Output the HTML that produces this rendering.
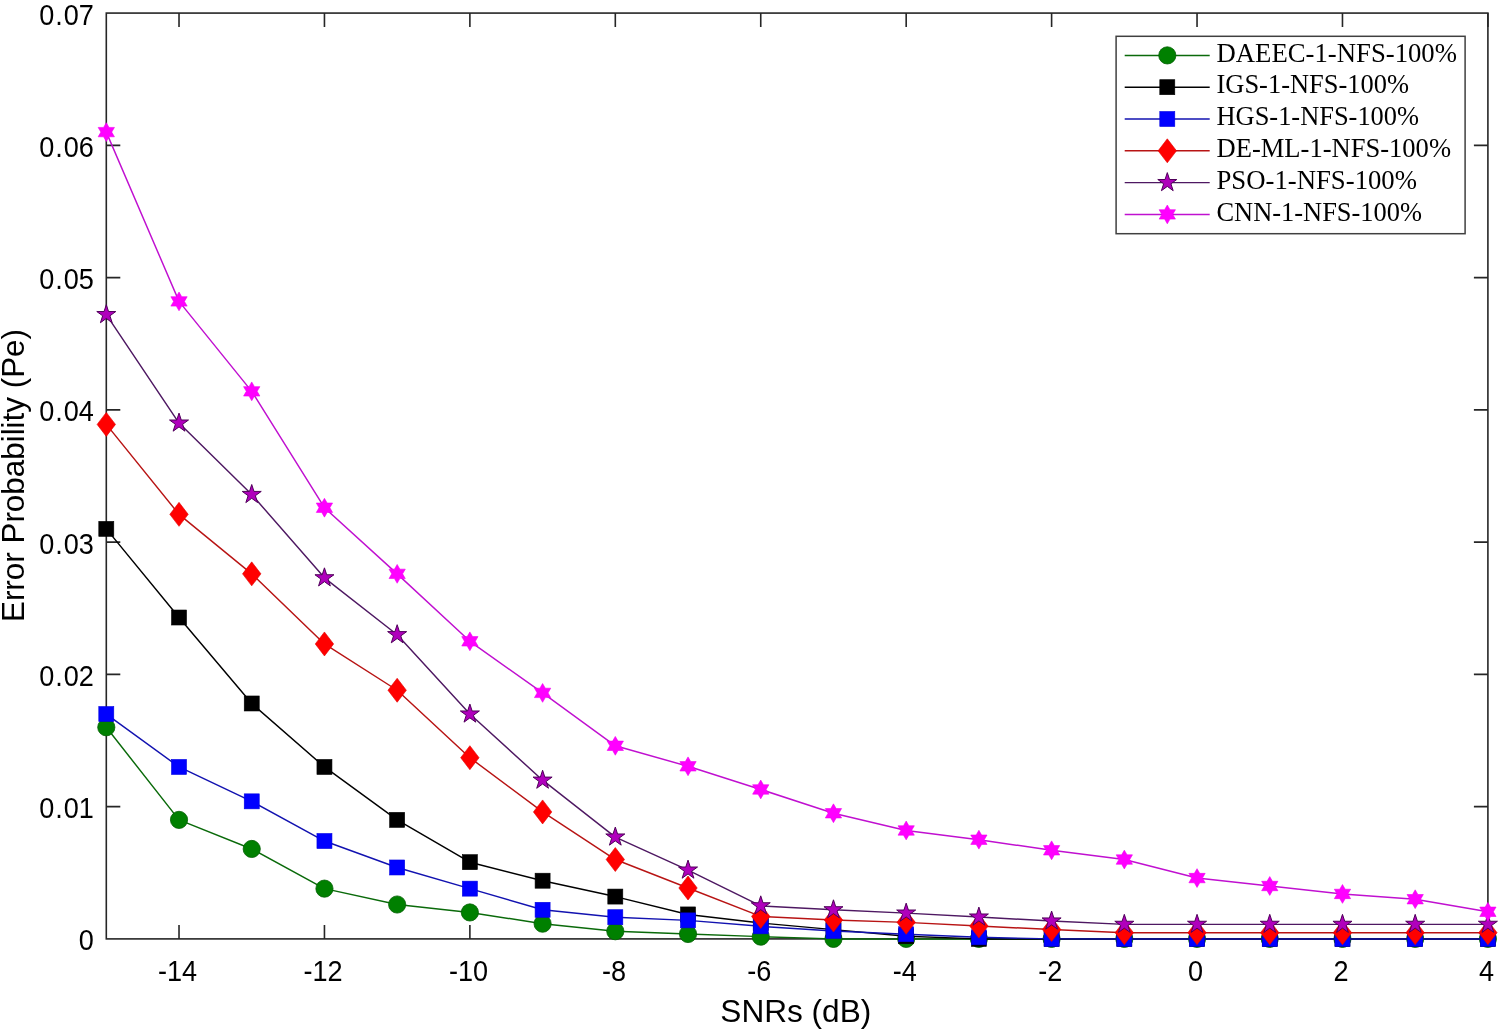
<!DOCTYPE html>
<html><head><meta charset="utf-8"><style>
html,body{margin:0;padding:0;background:#fff;}
svg{display:block;font-family:"Liberation Sans",sans-serif;}
text{-webkit-font-smoothing:antialiased;}
</style></head><body>
<svg style="will-change:transform" width="1500" height="1032" viewBox="0 0 1500 1032">
<rect width="1500" height="1032" fill="#fff"/>
<rect x="106.30" y="13.08" width="1381.60" height="925.82" fill="#fff" stroke="#262626" stroke-width="1.6"/>
<path d="M179.02 938.90V924.90M179.02 13.08V27.08" stroke="#262626" stroke-width="1.6"/>
<path d="M324.45 938.90V924.90M324.45 13.08V27.08" stroke="#262626" stroke-width="1.6"/>
<path d="M469.88 938.90V924.90M469.88 13.08V27.08" stroke="#262626" stroke-width="1.6"/>
<path d="M615.31 938.90V924.90M615.31 13.08V27.08" stroke="#262626" stroke-width="1.6"/>
<path d="M760.74 938.90V924.90M760.74 13.08V27.08" stroke="#262626" stroke-width="1.6"/>
<path d="M906.18 938.90V924.90M906.18 13.08V27.08" stroke="#262626" stroke-width="1.6"/>
<path d="M1051.61 938.90V924.90M1051.61 13.08V27.08" stroke="#262626" stroke-width="1.6"/>
<path d="M1197.04 938.90V924.90M1197.04 13.08V27.08" stroke="#262626" stroke-width="1.6"/>
<path d="M1342.47 938.90V924.90M1342.47 13.08V27.08" stroke="#262626" stroke-width="1.6"/>
<path d="M1487.90 938.90V924.90M1487.90 13.08V27.08" stroke="#262626" stroke-width="1.6"/>
<path d="M106.30 806.64H120.30M1487.90 806.64H1473.90" stroke="#262626" stroke-width="1.6"/>
<path d="M106.30 674.38H120.30M1487.90 674.38H1473.90" stroke="#262626" stroke-width="1.6"/>
<path d="M106.30 542.12H120.30M1487.90 542.12H1473.90" stroke="#262626" stroke-width="1.6"/>
<path d="M106.30 409.86H120.30M1487.90 409.86H1473.90" stroke="#262626" stroke-width="1.6"/>
<path d="M106.30 277.60H120.30M1487.90 277.60H1473.90" stroke="#262626" stroke-width="1.6"/>
<path d="M106.30 145.34H120.30M1487.90 145.34H1473.90" stroke="#262626" stroke-width="1.6"/>
<polyline points="106.30,727.28 179.02,819.87 251.73,848.96 324.45,888.64 397.16,904.51 469.88,912.45 542.60,923.69 615.31,931.23 688.03,934.01 760.74,936.65 833.46,938.90 906.18,938.90 978.89,938.90 1051.61,938.90 1124.32,938.90 1197.04,938.90 1269.76,938.90 1342.47,938.90 1415.19,938.90 1487.90,938.90" fill="none" stroke="#0a6a0a" stroke-width="1.45" stroke-linejoin="round"/>
<circle cx="106.30" cy="727.28" r="8.6" fill="#008000" stroke="#036003" stroke-width="0.8"/>
<circle cx="179.02" cy="819.87" r="8.6" fill="#008000" stroke="#036003" stroke-width="0.8"/>
<circle cx="251.73" cy="848.96" r="8.6" fill="#008000" stroke="#036003" stroke-width="0.8"/>
<circle cx="324.45" cy="888.64" r="8.6" fill="#008000" stroke="#036003" stroke-width="0.8"/>
<circle cx="397.16" cy="904.51" r="8.6" fill="#008000" stroke="#036003" stroke-width="0.8"/>
<circle cx="469.88" cy="912.45" r="8.6" fill="#008000" stroke="#036003" stroke-width="0.8"/>
<circle cx="542.60" cy="923.69" r="8.6" fill="#008000" stroke="#036003" stroke-width="0.8"/>
<circle cx="615.31" cy="931.23" r="8.6" fill="#008000" stroke="#036003" stroke-width="0.8"/>
<circle cx="688.03" cy="934.01" r="8.6" fill="#008000" stroke="#036003" stroke-width="0.8"/>
<circle cx="760.74" cy="936.65" r="8.6" fill="#008000" stroke="#036003" stroke-width="0.8"/>
<circle cx="833.46" cy="938.90" r="8.6" fill="#008000" stroke="#036003" stroke-width="0.8"/>
<circle cx="906.18" cy="938.90" r="8.6" fill="#008000" stroke="#036003" stroke-width="0.8"/>
<circle cx="978.89" cy="938.90" r="8.6" fill="#008000" stroke="#036003" stroke-width="0.8"/>
<circle cx="1051.61" cy="938.90" r="8.6" fill="#008000" stroke="#036003" stroke-width="0.8"/>
<circle cx="1124.32" cy="938.90" r="8.6" fill="#008000" stroke="#036003" stroke-width="0.8"/>
<circle cx="1197.04" cy="938.90" r="8.6" fill="#008000" stroke="#036003" stroke-width="0.8"/>
<circle cx="1269.76" cy="938.90" r="8.6" fill="#008000" stroke="#036003" stroke-width="0.8"/>
<circle cx="1342.47" cy="938.90" r="8.6" fill="#008000" stroke="#036003" stroke-width="0.8"/>
<circle cx="1415.19" cy="938.90" r="8.6" fill="#008000" stroke="#036003" stroke-width="0.8"/>
<circle cx="1487.90" cy="938.90" r="8.6" fill="#008000" stroke="#036003" stroke-width="0.8"/>
<polyline points="106.30,528.89 179.02,617.51 251.73,703.48 324.45,766.96 397.16,819.87 469.88,862.19 542.60,880.71 615.31,896.58 688.03,914.43 760.74,923.03 833.46,929.64 906.18,936.25 978.89,938.90 1051.61,938.90 1124.32,938.90 1197.04,938.90 1269.76,938.90 1342.47,938.90 1415.19,938.90 1487.90,938.90" fill="none" stroke="#000000" stroke-width="1.45" stroke-linejoin="round"/>
<rect x="98.80" y="521.39" width="15.0" height="15.0" fill="#000000" stroke="#000000" stroke-width="0.6"/>
<rect x="171.52" y="610.01" width="15.0" height="15.0" fill="#000000" stroke="#000000" stroke-width="0.6"/>
<rect x="244.23" y="695.98" width="15.0" height="15.0" fill="#000000" stroke="#000000" stroke-width="0.6"/>
<rect x="316.95" y="759.46" width="15.0" height="15.0" fill="#000000" stroke="#000000" stroke-width="0.6"/>
<rect x="389.66" y="812.37" width="15.0" height="15.0" fill="#000000" stroke="#000000" stroke-width="0.6"/>
<rect x="462.38" y="854.69" width="15.0" height="15.0" fill="#000000" stroke="#000000" stroke-width="0.6"/>
<rect x="535.10" y="873.21" width="15.0" height="15.0" fill="#000000" stroke="#000000" stroke-width="0.6"/>
<rect x="607.81" y="889.08" width="15.0" height="15.0" fill="#000000" stroke="#000000" stroke-width="0.6"/>
<rect x="680.53" y="906.93" width="15.0" height="15.0" fill="#000000" stroke="#000000" stroke-width="0.6"/>
<rect x="753.24" y="915.53" width="15.0" height="15.0" fill="#000000" stroke="#000000" stroke-width="0.6"/>
<rect x="825.96" y="922.14" width="15.0" height="15.0" fill="#000000" stroke="#000000" stroke-width="0.6"/>
<rect x="898.68" y="928.75" width="15.0" height="15.0" fill="#000000" stroke="#000000" stroke-width="0.6"/>
<rect x="971.39" y="931.40" width="15.0" height="15.0" fill="#000000" stroke="#000000" stroke-width="0.6"/>
<rect x="1044.11" y="931.40" width="15.0" height="15.0" fill="#000000" stroke="#000000" stroke-width="0.6"/>
<rect x="1116.82" y="931.40" width="15.0" height="15.0" fill="#000000" stroke="#000000" stroke-width="0.6"/>
<rect x="1189.54" y="931.40" width="15.0" height="15.0" fill="#000000" stroke="#000000" stroke-width="0.6"/>
<rect x="1262.26" y="931.40" width="15.0" height="15.0" fill="#000000" stroke="#000000" stroke-width="0.6"/>
<rect x="1334.97" y="931.40" width="15.0" height="15.0" fill="#000000" stroke="#000000" stroke-width="0.6"/>
<rect x="1407.69" y="931.40" width="15.0" height="15.0" fill="#000000" stroke="#000000" stroke-width="0.6"/>
<rect x="1480.40" y="931.40" width="15.0" height="15.0" fill="#000000" stroke="#000000" stroke-width="0.6"/>
<polyline points="106.30,714.06 179.02,766.96 251.73,801.35 324.45,841.03 397.16,867.48 469.88,888.64 542.60,909.80 615.31,917.21 688.03,920.38 760.74,926.34 833.46,930.96 906.18,934.27 978.89,937.31 1051.61,938.90 1124.32,938.90 1197.04,938.90 1269.76,938.90 1342.47,938.90 1415.19,938.90 1487.90,938.90" fill="none" stroke="#1212b0" stroke-width="1.45" stroke-linejoin="round"/>
<rect x="98.80" y="706.56" width="15.0" height="15.0" fill="#0000ff" stroke="#0000e0" stroke-width="0.6"/>
<rect x="171.52" y="759.46" width="15.0" height="15.0" fill="#0000ff" stroke="#0000e0" stroke-width="0.6"/>
<rect x="244.23" y="793.85" width="15.0" height="15.0" fill="#0000ff" stroke="#0000e0" stroke-width="0.6"/>
<rect x="316.95" y="833.53" width="15.0" height="15.0" fill="#0000ff" stroke="#0000e0" stroke-width="0.6"/>
<rect x="389.66" y="859.98" width="15.0" height="15.0" fill="#0000ff" stroke="#0000e0" stroke-width="0.6"/>
<rect x="462.38" y="881.14" width="15.0" height="15.0" fill="#0000ff" stroke="#0000e0" stroke-width="0.6"/>
<rect x="535.10" y="902.30" width="15.0" height="15.0" fill="#0000ff" stroke="#0000e0" stroke-width="0.6"/>
<rect x="607.81" y="909.71" width="15.0" height="15.0" fill="#0000ff" stroke="#0000e0" stroke-width="0.6"/>
<rect x="680.53" y="912.88" width="15.0" height="15.0" fill="#0000ff" stroke="#0000e0" stroke-width="0.6"/>
<rect x="753.24" y="918.84" width="15.0" height="15.0" fill="#0000ff" stroke="#0000e0" stroke-width="0.6"/>
<rect x="825.96" y="923.46" width="15.0" height="15.0" fill="#0000ff" stroke="#0000e0" stroke-width="0.6"/>
<rect x="898.68" y="926.77" width="15.0" height="15.0" fill="#0000ff" stroke="#0000e0" stroke-width="0.6"/>
<rect x="971.39" y="929.81" width="15.0" height="15.0" fill="#0000ff" stroke="#0000e0" stroke-width="0.6"/>
<rect x="1044.11" y="931.40" width="15.0" height="15.0" fill="#0000ff" stroke="#0000e0" stroke-width="0.6"/>
<rect x="1116.82" y="931.40" width="15.0" height="15.0" fill="#0000ff" stroke="#0000e0" stroke-width="0.6"/>
<rect x="1189.54" y="931.40" width="15.0" height="15.0" fill="#0000ff" stroke="#0000e0" stroke-width="0.6"/>
<rect x="1262.26" y="931.40" width="15.0" height="15.0" fill="#0000ff" stroke="#0000e0" stroke-width="0.6"/>
<rect x="1334.97" y="931.40" width="15.0" height="15.0" fill="#0000ff" stroke="#0000e0" stroke-width="0.6"/>
<rect x="1407.69" y="931.40" width="15.0" height="15.0" fill="#0000ff" stroke="#0000e0" stroke-width="0.6"/>
<rect x="1480.40" y="931.40" width="15.0" height="15.0" fill="#0000ff" stroke="#0000e0" stroke-width="0.6"/>
<polyline points="106.30,424.41 179.02,514.35 251.73,573.86 324.45,643.96 397.16,690.25 469.88,757.70 542.60,811.93 615.31,859.54 688.03,887.98 760.74,916.42 833.46,919.99 906.18,922.37 978.89,926.07 1051.61,929.51 1124.32,932.68 1197.04,932.68 1269.76,932.68 1342.47,932.68 1415.19,932.68 1487.90,932.68" fill="none" stroke="#b81414" stroke-width="1.45" stroke-linejoin="round"/>
<path d="M106.30 412.41L115.50 424.41L106.30 436.41L97.10 424.41Z" fill="#ff0000" stroke="#e00000" stroke-width="0.6"/>
<path d="M179.02 502.35L188.22 514.35L179.02 526.35L169.82 514.35Z" fill="#ff0000" stroke="#e00000" stroke-width="0.6"/>
<path d="M251.73 561.86L260.93 573.86L251.73 585.86L242.53 573.86Z" fill="#ff0000" stroke="#e00000" stroke-width="0.6"/>
<path d="M324.45 631.96L333.65 643.96L324.45 655.96L315.25 643.96Z" fill="#ff0000" stroke="#e00000" stroke-width="0.6"/>
<path d="M397.16 678.25L406.36 690.25L397.16 702.25L387.96 690.25Z" fill="#ff0000" stroke="#e00000" stroke-width="0.6"/>
<path d="M469.88 745.70L479.08 757.70L469.88 769.70L460.68 757.70Z" fill="#ff0000" stroke="#e00000" stroke-width="0.6"/>
<path d="M542.60 799.93L551.80 811.93L542.60 823.93L533.40 811.93Z" fill="#ff0000" stroke="#e00000" stroke-width="0.6"/>
<path d="M615.31 847.54L624.51 859.54L615.31 871.54L606.11 859.54Z" fill="#ff0000" stroke="#e00000" stroke-width="0.6"/>
<path d="M688.03 875.98L697.23 887.98L688.03 899.98L678.83 887.98Z" fill="#ff0000" stroke="#e00000" stroke-width="0.6"/>
<path d="M760.74 904.42L769.94 916.42L760.74 928.42L751.54 916.42Z" fill="#ff0000" stroke="#e00000" stroke-width="0.6"/>
<path d="M833.46 907.99L842.66 919.99L833.46 931.99L824.26 919.99Z" fill="#ff0000" stroke="#e00000" stroke-width="0.6"/>
<path d="M906.18 910.37L915.38 922.37L906.18 934.37L896.98 922.37Z" fill="#ff0000" stroke="#e00000" stroke-width="0.6"/>
<path d="M978.89 914.07L988.09 926.07L978.89 938.07L969.69 926.07Z" fill="#ff0000" stroke="#e00000" stroke-width="0.6"/>
<path d="M1051.61 917.51L1060.81 929.51L1051.61 941.51L1042.41 929.51Z" fill="#ff0000" stroke="#e00000" stroke-width="0.6"/>
<path d="M1124.32 920.68L1133.52 932.68L1124.32 944.68L1115.12 932.68Z" fill="#ff0000" stroke="#e00000" stroke-width="0.6"/>
<path d="M1197.04 920.68L1206.24 932.68L1197.04 944.68L1187.84 932.68Z" fill="#ff0000" stroke="#e00000" stroke-width="0.6"/>
<path d="M1269.76 920.68L1278.96 932.68L1269.76 944.68L1260.56 932.68Z" fill="#ff0000" stroke="#e00000" stroke-width="0.6"/>
<path d="M1342.47 920.68L1351.67 932.68L1342.47 944.68L1333.27 932.68Z" fill="#ff0000" stroke="#e00000" stroke-width="0.6"/>
<path d="M1415.19 920.68L1424.39 932.68L1415.19 944.68L1405.99 932.68Z" fill="#ff0000" stroke="#e00000" stroke-width="0.6"/>
<path d="M1487.90 920.68L1497.10 932.68L1487.90 944.68L1478.70 932.68Z" fill="#ff0000" stroke="#e00000" stroke-width="0.6"/>
<polyline points="106.30,314.63 179.02,423.09 251.73,494.51 324.45,577.83 397.16,634.70 469.88,714.06 542.60,780.19 615.31,837.06 688.03,870.12 760.74,905.84 833.46,909.80 906.18,913.11 978.89,917.08 1051.61,921.04 1124.32,924.35 1197.04,924.35 1269.76,924.35 1342.47,924.35 1415.19,924.35 1487.90,924.35" fill="none" stroke="#4e1862" stroke-width="1.45" stroke-linejoin="round"/>
<polygon points="106.30,304.63 108.55,311.54 115.81,311.54 109.93,315.81 112.18,322.72 106.30,318.45 100.42,322.72 102.67,315.81 96.79,311.54 104.05,311.54" fill="#b000bc" stroke="#50005a" stroke-width="1"/>
<polygon points="179.02,413.09 181.26,420.00 188.53,420.00 182.65,424.27 184.89,431.18 179.02,426.91 173.14,431.18 175.38,424.27 169.51,420.00 176.77,420.00" fill="#b000bc" stroke="#50005a" stroke-width="1"/>
<polygon points="251.73,484.51 253.98,491.42 261.24,491.42 255.37,495.69 257.61,502.60 251.73,498.33 245.85,502.60 248.10,495.69 242.22,491.42 249.49,491.42" fill="#b000bc" stroke="#50005a" stroke-width="1"/>
<polygon points="324.45,567.83 326.69,574.74 333.96,574.74 328.08,579.01 330.33,585.92 324.45,581.65 318.57,585.92 320.81,579.01 314.94,574.74 322.20,574.74" fill="#b000bc" stroke="#50005a" stroke-width="1"/>
<polygon points="397.16,624.70 399.41,631.61 406.67,631.61 400.80,635.88 403.04,642.79 397.16,638.52 391.29,642.79 393.53,635.88 387.65,631.61 394.92,631.61" fill="#b000bc" stroke="#50005a" stroke-width="1"/>
<polygon points="469.88,704.06 472.13,710.97 479.39,710.97 473.51,715.24 475.76,722.15 469.88,717.88 464.00,722.15 466.25,715.24 460.37,710.97 467.63,710.97" fill="#b000bc" stroke="#50005a" stroke-width="1"/>
<polygon points="542.60,770.19 544.84,777.10 552.11,777.10 546.23,781.37 548.47,788.28 542.60,784.01 536.72,788.28 538.96,781.37 533.09,777.10 540.35,777.10" fill="#b000bc" stroke="#50005a" stroke-width="1"/>
<polygon points="615.31,827.06 617.56,833.97 624.82,833.97 618.95,838.24 621.19,845.15 615.31,840.88 609.43,845.15 611.68,838.24 605.80,833.97 613.07,833.97" fill="#b000bc" stroke="#50005a" stroke-width="1"/>
<polygon points="688.03,860.12 690.27,867.03 697.54,867.03 691.66,871.31 693.91,878.21 688.03,873.94 682.15,878.21 684.39,871.31 678.52,867.03 685.78,867.03" fill="#b000bc" stroke="#50005a" stroke-width="1"/>
<polygon points="760.74,895.84 762.99,902.74 770.25,902.74 764.38,907.02 766.62,913.93 760.74,909.66 754.87,913.93 757.11,907.02 751.23,902.74 758.50,902.74" fill="#b000bc" stroke="#50005a" stroke-width="1"/>
<polygon points="833.46,899.80 835.71,906.71 842.97,906.71 837.09,910.98 839.34,917.89 833.46,913.62 827.58,917.89 829.83,910.98 823.95,906.71 831.21,906.71" fill="#b000bc" stroke="#50005a" stroke-width="1"/>
<polygon points="906.18,903.11 908.42,910.02 915.69,910.02 909.81,914.29 912.05,921.20 906.18,916.93 900.30,921.20 902.54,914.29 896.67,910.02 903.93,910.02" fill="#b000bc" stroke="#50005a" stroke-width="1"/>
<polygon points="978.89,907.08 981.14,913.99 988.40,913.99 982.53,918.26 984.77,925.17 978.89,920.90 973.01,925.17 975.26,918.26 969.38,913.99 976.65,913.99" fill="#b000bc" stroke="#50005a" stroke-width="1"/>
<polygon points="1051.61,911.04 1053.85,917.95 1061.12,917.95 1055.24,922.23 1057.49,929.14 1051.61,924.86 1045.73,929.14 1047.97,922.23 1042.10,917.95 1049.36,917.95" fill="#b000bc" stroke="#50005a" stroke-width="1"/>
<polygon points="1124.32,914.35 1126.57,921.26 1133.83,921.26 1127.96,925.53 1130.20,932.44 1124.32,928.17 1118.45,932.44 1120.69,925.53 1114.81,921.26 1122.08,921.26" fill="#b000bc" stroke="#50005a" stroke-width="1"/>
<polygon points="1197.04,914.35 1199.29,921.26 1206.55,921.26 1200.67,925.53 1202.92,932.44 1197.04,928.17 1191.16,932.44 1193.41,925.53 1187.53,921.26 1194.79,921.26" fill="#b000bc" stroke="#50005a" stroke-width="1"/>
<polygon points="1269.76,914.35 1272.00,921.26 1279.27,921.26 1273.39,925.53 1275.63,932.44 1269.76,928.17 1263.88,932.44 1266.12,925.53 1260.25,921.26 1267.51,921.26" fill="#b000bc" stroke="#50005a" stroke-width="1"/>
<polygon points="1342.47,914.35 1344.72,921.26 1351.98,921.26 1346.11,925.53 1348.35,932.44 1342.47,928.17 1336.59,932.44 1338.84,925.53 1332.96,921.26 1340.23,921.26" fill="#b000bc" stroke="#50005a" stroke-width="1"/>
<polygon points="1415.19,914.35 1417.43,921.26 1424.70,921.26 1418.82,925.53 1421.07,932.44 1415.19,928.17 1409.31,932.44 1411.55,925.53 1405.68,921.26 1412.94,921.26" fill="#b000bc" stroke="#50005a" stroke-width="1"/>
<polygon points="1487.90,914.35 1490.15,921.26 1497.41,921.26 1491.54,925.53 1493.78,932.44 1487.90,928.17 1482.03,932.44 1484.27,925.53 1478.39,921.26 1485.66,921.26" fill="#b000bc" stroke="#50005a" stroke-width="1"/>
<polyline points="106.30,132.11 179.02,301.41 251.73,391.34 324.45,507.73 397.16,573.86 469.88,641.32 542.60,692.90 615.31,745.80 688.03,766.30 760.74,789.45 833.46,813.25 906.18,830.45 978.89,839.70 1051.61,850.29 1124.32,859.54 1197.04,878.06 1269.76,886.00 1342.47,893.93 1415.19,899.22 1487.90,911.79" fill="none" stroke="#c010d0" stroke-width="1.45" stroke-linejoin="round"/>
<polygon points="106.30,122.71 109.01,127.41 114.44,127.41 111.73,132.11 114.44,136.81 109.01,136.81 106.30,141.51 103.59,136.81 98.16,136.81 100.87,132.11 98.16,127.41 103.59,127.41" fill="#ff00ff" stroke="#f000f0" stroke-width="0.6"/>
<polygon points="179.02,292.01 181.73,296.71 187.16,296.71 184.44,301.41 187.16,306.11 181.73,306.11 179.02,310.81 176.30,306.11 170.88,306.11 173.59,301.41 170.88,296.71 176.30,296.71" fill="#ff00ff" stroke="#f000f0" stroke-width="0.6"/>
<polygon points="251.73,381.94 254.45,386.64 259.87,386.64 257.16,391.34 259.87,396.04 254.45,396.04 251.73,400.74 249.02,396.04 243.59,396.04 246.30,391.34 243.59,386.64 249.02,386.64" fill="#ff00ff" stroke="#f000f0" stroke-width="0.6"/>
<polygon points="324.45,498.33 327.16,503.03 332.59,503.03 329.88,507.73 332.59,512.43 327.16,512.43 324.45,517.13 321.73,512.43 316.31,512.43 319.02,507.73 316.31,503.03 321.73,503.03" fill="#ff00ff" stroke="#f000f0" stroke-width="0.6"/>
<polygon points="397.16,564.46 399.88,569.16 405.30,569.16 402.59,573.86 405.30,578.56 399.88,578.56 397.16,583.26 394.45,578.56 389.02,578.56 391.74,573.86 389.02,569.16 394.45,569.16" fill="#ff00ff" stroke="#f000f0" stroke-width="0.6"/>
<polygon points="469.88,631.92 472.59,636.62 478.02,636.62 475.31,641.32 478.02,646.02 472.59,646.02 469.88,650.72 467.17,646.02 461.74,646.02 464.45,641.32 461.74,636.62 467.17,636.62" fill="#ff00ff" stroke="#f000f0" stroke-width="0.6"/>
<polygon points="542.60,683.50 545.31,688.20 550.74,688.20 548.02,692.90 550.74,697.60 545.31,697.60 542.60,702.30 539.88,697.60 534.46,697.60 537.17,692.90 534.46,688.20 539.88,688.20" fill="#ff00ff" stroke="#f000f0" stroke-width="0.6"/>
<polygon points="615.31,736.40 618.03,741.10 623.45,741.10 620.74,745.80 623.45,750.50 618.03,750.50 615.31,755.20 612.60,750.50 607.17,750.50 609.88,745.80 607.17,741.10 612.60,741.10" fill="#ff00ff" stroke="#f000f0" stroke-width="0.6"/>
<polygon points="688.03,756.90 690.74,761.60 696.17,761.60 693.46,766.30 696.17,771.00 690.74,771.00 688.03,775.70 685.31,771.00 679.89,771.00 682.60,766.30 679.89,761.60 685.31,761.60" fill="#ff00ff" stroke="#f000f0" stroke-width="0.6"/>
<polygon points="760.74,780.05 763.46,784.75 768.88,784.75 766.17,789.45 768.88,794.15 763.46,794.15 760.74,798.85 758.03,794.15 752.60,794.15 755.32,789.45 752.60,784.75 758.03,784.75" fill="#ff00ff" stroke="#f000f0" stroke-width="0.6"/>
<polygon points="833.46,803.85 836.17,808.55 841.60,808.55 838.89,813.25 841.60,817.95 836.17,817.95 833.46,822.65 830.75,817.95 825.32,817.95 828.03,813.25 825.32,808.55 830.75,808.55" fill="#ff00ff" stroke="#f000f0" stroke-width="0.6"/>
<polygon points="906.18,821.05 908.89,825.75 914.32,825.75 911.60,830.45 914.32,835.15 908.89,835.15 906.18,839.85 903.46,835.15 898.04,835.15 900.75,830.45 898.04,825.75 903.46,825.75" fill="#ff00ff" stroke="#f000f0" stroke-width="0.6"/>
<polygon points="978.89,830.30 981.61,835.00 987.03,835.00 984.32,839.70 987.03,844.40 981.61,844.40 978.89,849.10 976.18,844.40 970.75,844.40 973.46,839.70 970.75,835.00 976.18,835.00" fill="#ff00ff" stroke="#f000f0" stroke-width="0.6"/>
<polygon points="1051.61,840.89 1054.32,845.59 1059.75,845.59 1057.04,850.29 1059.75,854.99 1054.32,854.99 1051.61,859.69 1048.89,854.99 1043.47,854.99 1046.18,850.29 1043.47,845.59 1048.89,845.59" fill="#ff00ff" stroke="#f000f0" stroke-width="0.6"/>
<polygon points="1124.32,850.14 1127.04,854.84 1132.46,854.84 1129.75,859.54 1132.46,864.24 1127.04,864.24 1124.32,868.94 1121.61,864.24 1116.18,864.24 1118.90,859.54 1116.18,854.84 1121.61,854.84" fill="#ff00ff" stroke="#f000f0" stroke-width="0.6"/>
<polygon points="1197.04,868.66 1199.75,873.36 1205.18,873.36 1202.47,878.06 1205.18,882.76 1199.75,882.76 1197.04,887.46 1194.33,882.76 1188.90,882.76 1191.61,878.06 1188.90,873.36 1194.33,873.36" fill="#ff00ff" stroke="#f000f0" stroke-width="0.6"/>
<polygon points="1269.76,876.60 1272.47,881.30 1277.90,881.30 1275.18,886.00 1277.90,890.70 1272.47,890.70 1269.76,895.40 1267.04,890.70 1261.62,890.70 1264.33,886.00 1261.62,881.30 1267.04,881.30" fill="#ff00ff" stroke="#f000f0" stroke-width="0.6"/>
<polygon points="1342.47,884.53 1345.19,889.23 1350.61,889.23 1347.90,893.93 1350.61,898.63 1345.19,898.63 1342.47,903.33 1339.76,898.63 1334.33,898.63 1337.04,893.93 1334.33,889.23 1339.76,889.23" fill="#ff00ff" stroke="#f000f0" stroke-width="0.6"/>
<polygon points="1415.19,889.82 1417.90,894.52 1423.33,894.52 1420.62,899.22 1423.33,903.92 1417.90,903.92 1415.19,908.62 1412.47,903.92 1407.05,903.92 1409.76,899.22 1407.05,894.52 1412.47,894.52" fill="#ff00ff" stroke="#f000f0" stroke-width="0.6"/>
<polygon points="1487.90,902.39 1490.62,907.09 1496.04,907.09 1493.33,911.79 1496.04,916.49 1490.62,916.49 1487.90,921.19 1485.19,916.49 1479.76,916.49 1482.48,911.79 1479.76,907.09 1485.19,907.09" fill="#ff00ff" stroke="#f000f0" stroke-width="0.6"/>
<text transform="translate(177.62,980.9) scale(0.985,1.08)" font-size="27.5" text-anchor="middle">-14</text>
<text transform="translate(323.05,980.9) scale(0.985,1.08)" font-size="27.5" text-anchor="middle">-12</text>
<text transform="translate(468.48,980.9) scale(0.985,1.08)" font-size="27.5" text-anchor="middle">-10</text>
<text transform="translate(613.91,980.9) scale(0.985,1.08)" font-size="27.5" text-anchor="middle">-8</text>
<text transform="translate(759.34,980.9) scale(0.985,1.08)" font-size="27.5" text-anchor="middle">-6</text>
<text transform="translate(904.78,980.9) scale(0.985,1.08)" font-size="27.5" text-anchor="middle">-4</text>
<text transform="translate(1050.21,980.9) scale(0.985,1.08)" font-size="27.5" text-anchor="middle">-2</text>
<text transform="translate(1195.64,980.9) scale(0.985,1.08)" font-size="27.5" text-anchor="middle">0</text>
<text transform="translate(1341.07,980.9) scale(0.985,1.08)" font-size="27.5" text-anchor="middle">2</text>
<text transform="translate(1486.50,980.9) scale(0.985,1.08)" font-size="27.5" text-anchor="middle">4</text>
<text transform="translate(93.8,950.40) scale(0.985,1.08)" font-size="27.5" text-anchor="end">0</text>
<text transform="translate(93.8,818.14) scale(0.985,1.08)" font-size="27.5" text-anchor="end">0<tspan dx="1">.</tspan><tspan dx="0.9">01</tspan></text>
<text transform="translate(93.8,685.88) scale(0.985,1.08)" font-size="27.5" text-anchor="end">0<tspan dx="1">.</tspan><tspan dx="0.9">02</tspan></text>
<text transform="translate(93.8,553.62) scale(0.985,1.08)" font-size="27.5" text-anchor="end">0<tspan dx="1">.</tspan><tspan dx="0.9">03</tspan></text>
<text transform="translate(93.8,421.36) scale(0.985,1.08)" font-size="27.5" text-anchor="end">0<tspan dx="1">.</tspan><tspan dx="0.9">04</tspan></text>
<text transform="translate(93.8,289.10) scale(0.985,1.08)" font-size="27.5" text-anchor="end">0<tspan dx="1">.</tspan><tspan dx="0.9">05</tspan></text>
<text transform="translate(93.8,156.84) scale(0.985,1.08)" font-size="27.5" text-anchor="end">0<tspan dx="1">.</tspan><tspan dx="0.9">06</tspan></text>
<text transform="translate(93.8,24.58) scale(0.985,1.08)" font-size="27.5" text-anchor="end">0<tspan dx="1">.</tspan><tspan dx="0.9">07</tspan></text>
<text x="795.8" y="1022.4" font-size="31.6" text-anchor="middle">SNRs (dB)</text>
<text transform="translate(23.6,475.5) rotate(-90)" font-size="31.4" text-anchor="middle">Error Probability (Pe)</text>
<rect x="1116.1" y="36.3" width="349.00" height="197.40" fill="#fff" stroke="#404040" stroke-width="1.5"/>
<path d="M1124.7 55.40H1209.7" stroke="#0a6a0a" stroke-width="1.45"/>
<circle cx="1167.30" cy="55.40" r="8.6" fill="#008000" stroke="#036003" stroke-width="0.8"/>
<text x="1216.5" y="61.60" font-family="&quot;Liberation Serif&quot;, serif" font-size="27" textLength="240.5" lengthAdjust="spacingAndGlyphs">DAEEC-1-NFS-100%</text>
<path d="M1124.7 87.20H1209.7" stroke="#000000" stroke-width="1.45"/>
<rect x="1159.80" y="79.70" width="15.0" height="15.0" fill="#000000" stroke="#000000" stroke-width="0.6"/>
<text x="1216.5" y="93.40" font-family="&quot;Liberation Serif&quot;, serif" font-size="27" textLength="192.5" lengthAdjust="spacingAndGlyphs">IGS-1-NFS-100%</text>
<path d="M1124.7 119.00H1209.7" stroke="#1212b0" stroke-width="1.45"/>
<rect x="1159.80" y="111.50" width="15.0" height="15.0" fill="#0000ff" stroke="#0000e0" stroke-width="0.6"/>
<text x="1216.5" y="125.20" font-family="&quot;Liberation Serif&quot;, serif" font-size="27" textLength="202.5" lengthAdjust="spacingAndGlyphs">HGS-1-NFS-100%</text>
<path d="M1124.7 150.80H1209.7" stroke="#b81414" stroke-width="1.45"/>
<path d="M1167.30 138.80L1176.50 150.80L1167.30 162.80L1158.10 150.80Z" fill="#ff0000" stroke="#e00000" stroke-width="0.6"/>
<text x="1216.5" y="157.00" font-family="&quot;Liberation Serif&quot;, serif" font-size="27" textLength="234.5" lengthAdjust="spacingAndGlyphs">DE-ML-1-NFS-100%</text>
<path d="M1124.7 182.60H1209.7" stroke="#4e1862" stroke-width="1.45"/>
<polygon points="1167.30,172.60 1169.55,179.51 1176.81,179.51 1170.93,183.78 1173.18,190.69 1167.30,186.42 1161.42,190.69 1163.67,183.78 1157.79,179.51 1165.05,179.51" fill="#b000bc" stroke="#50005a" stroke-width="1"/>
<text x="1216.5" y="188.80" font-family="&quot;Liberation Serif&quot;, serif" font-size="27" textLength="200.5" lengthAdjust="spacingAndGlyphs">PSO-1-NFS-100%</text>
<path d="M1124.7 214.40H1209.7" stroke="#c010d0" stroke-width="1.45"/>
<polygon points="1167.30,205.00 1170.01,209.70 1175.44,209.70 1172.73,214.40 1175.44,219.10 1170.01,219.10 1167.30,223.80 1164.59,219.10 1159.16,219.10 1161.87,214.40 1159.16,209.70 1164.59,209.70" fill="#ff00ff" stroke="#f000f0" stroke-width="0.6"/>
<text x="1216.5" y="220.60" font-family="&quot;Liberation Serif&quot;, serif" font-size="27" textLength="205.5" lengthAdjust="spacingAndGlyphs">CNN-1-NFS-100%</text>
</svg>
</body></html>
